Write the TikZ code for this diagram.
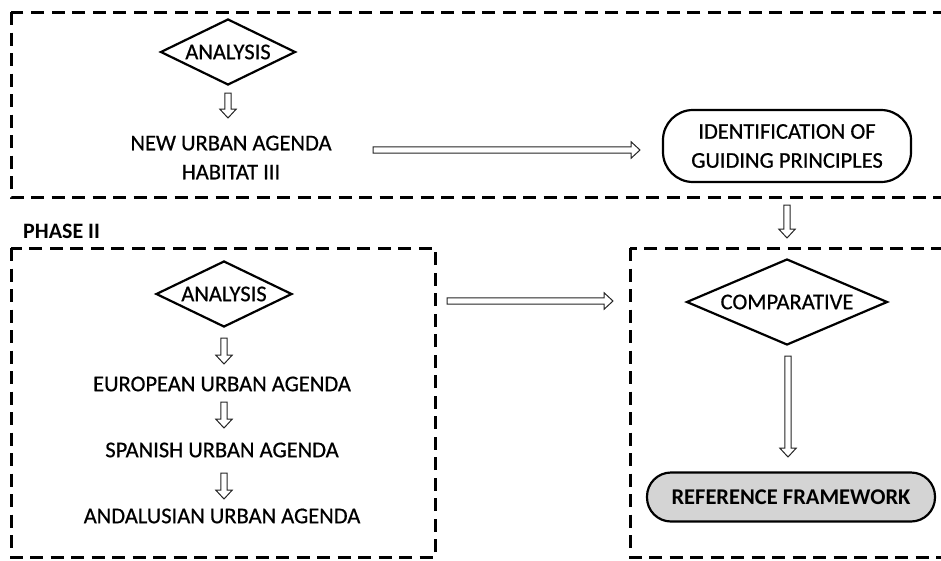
\documentclass[tikz,border=0pt]{standalone}
\usepackage{fontspec}
\setmainfont{Carlito}
\newfontfamily\heavyfont{Carlito}[FakeBold=0.6]
\usetikzlibrary{shapes.geometric,calc}
\newcommand{\harrow}[2]{%
  \path ($(#2)!9pt!(#1)$) coordinate (hh);
  \draw[harr] ($(#1)!3.2pt!90:(#2)$) -- ($(hh)!3.2pt!90:(#2)$) -- ($(hh)!8.3pt!90:(#2)$) -- (#2)
    -- ($(hh)!8.3pt!-90:(#2)$) -- ($(hh)!3.2pt!-90:(#2)$) -- ($(#1)!3.2pt!-90:(#2)$) -- cycle;}
\begin{document}
\begin{tikzpicture}[x=1pt,y=-1pt,
  every node/.style={font=\heavyfont\fontsize{22.5}{29}\selectfont, text=black},
  boldtext/.style={font=\rmfamily\bfseries\fontsize{22.5}{25}\selectfont},
  dbox/.style={draw=black, line width=3pt, dash pattern=on 13pt off 7.5pt},
  dia/.style={draw=black, shape=diamond, line width=2.2pt, inner sep=0pt},
  rbox/.style={draw=black, line width=2.2pt, align=center, inner sep=0pt},
  harr/.style={draw=black!85, line width=1pt, fill=white, line join=miter}]
\useasboundingbox (0,0) rectangle (941,560);
\clip (0,0) rectangle (941,560);
\fill[white] (0,0) rectangle (941,560);
% dashed boxes
\draw[dbox] (11,12) rectangle (970,197);
\draw[dbox] (11,248) rectangle (435,557);
\draw[dbox] (630,248) rectangle (970,557);
% phase I
\node[dia, aspect=2.05, minimum width=135, minimum height=66] (an1) at (228,52) {ANALYSIS};
\node[align=center] (nua) at (231,157.5) {NEW URBAN AGENDA\\HABITAT III};
\node[rbox, rounded corners=30pt, minimum width=248, minimum height=72] (idg) at (787,146) {IDENTIFICATION OF\\GUIDING PRINCIPLES};
% phase II
\node[boldtext, font=\rmfamily\bfseries\fontsize{22}{25}\selectfont, anchor=west, inner sep=0pt] (ph2) at (23,231) {PHASE II};
\node[dia, aspect=2.06, minimum width=136, minimum height=66] (an2) at (224,294) {ANALYSIS};
\node (eua) at (222,384) {EUROPEAN URBAN AGENDA};
\node (sua) at (222,450) {SPANISH URBAN AGENDA};
\node (aua) at (222,516) {ANDALUSIAN URBAN AGENDA};
\node[dia, aspect=2.34, minimum width=201, minimum height=86] (cmp) at (787,302) {COMPARATIVE};
\node[rbox, boldtext, rounded corners=24pt, fill=black!17, minimum width=288, minimum height=49] (ref) at (791,497) {REFERENCE FRAMEWORK};
% arrow end points
\coordinate (a1s) at (228,93);  \coordinate (a1e) at (228,118);
\coordinate (h1s) at (373,150); \coordinate (h1e) at (640,150);
\coordinate (v1s) at (787,205); \coordinate (v1e) at (787,238);
\coordinate (b1s) at (224,338); \coordinate (b1e) at (224,364);
\coordinate (b2s) at (224,402); \coordinate (b2e) at (224,428);
\coordinate (b3s) at (224,473); \coordinate (b3e) at (224,499);
\coordinate (m1s) at (447,301); \coordinate (m1e) at (613,301);
\coordinate (v2s) at (788,356); \coordinate (v2e) at (788,457);
\harrow{a1s}{a1e}
\harrow{h1s}{h1e}
\harrow{v1s}{v1e}
\harrow{b1s}{b1e}
\harrow{b2s}{b2e}
\harrow{b3s}{b3e}
\harrow{m1s}{m1e}
\harrow{v2s}{v2e}
\end{tikzpicture}
\end{document}
